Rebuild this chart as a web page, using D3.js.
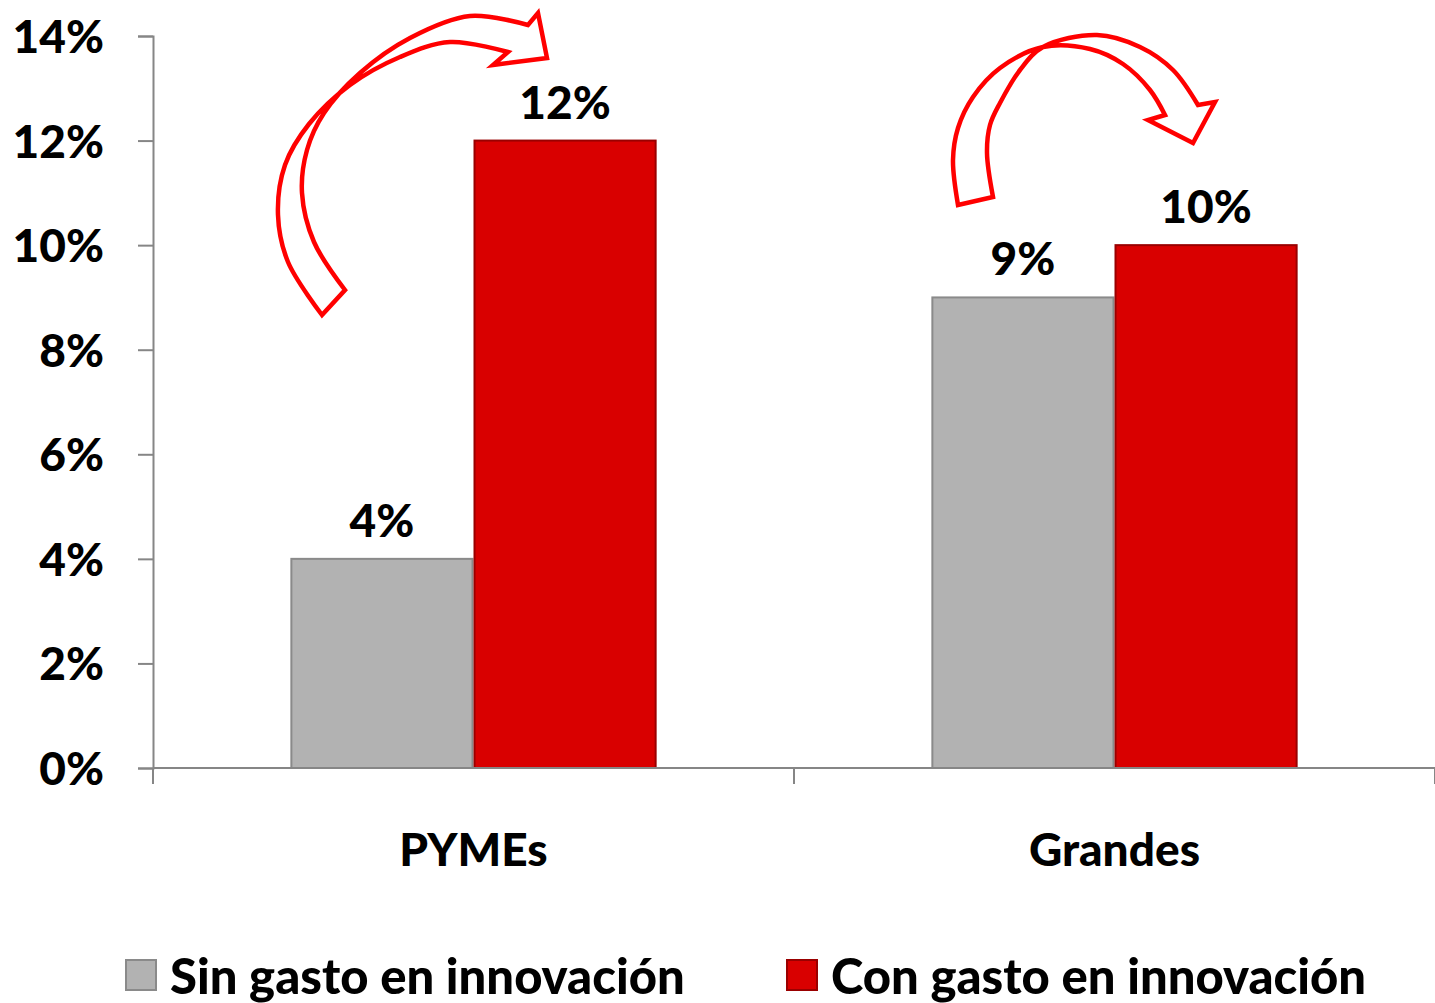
<!DOCTYPE html>
<html>
<head>
<meta charset="utf-8">
<script src="https://cdn.jsdelivr.net/npm/d3@7"></script>
<style>
  body { margin: 0; background: #fff; }
  text { font-family: Lato, "Open Sans", sans-serif; font-weight: 900; fill: #000; }
</style>
</head>
<body>
<div id="chart"></div>
<script>
// categories, series and values
const categories = ["PYMEs", "Grandes"];
const series = ["Sin gasto en innovación", "Con gasto en innovación"];
const sinGasto = [0.04, 0.09];
const conGasto = [0.12, 0.10];
const yTicks = [0, 0.02, 0.04, 0.06, 0.08, 0.10, 0.12, 0.14];
const colors = ["#b2b2b2", "#d90000"];
const edgeColors = ["#8a8a8a", "#9a0000"];

// curved arrow outlines (pixel coords, decoration only)
const arrowPYMEs = {
  a: [[322,315],[288,262],[278,215],[285,165],[309,124],[350,85],[400,57],[450,42],[508,52]],
  head: [[493,65],[547,58],[538,13],[528,25]],
  b: [[345,290],[314,242],[302,193],[307,150],[324,113],[360,73],[410,38],[470,16],[528,25]]
};
const arrowGrandes = {
  a: [[958,205],[953,160],[958,128],[973,97],[1000,68],[1043,47],[1090,49],[1123,64],[1150,90],[1165,115]],
  head: [[1148,120],[1193,143],[1215,102],[1198,105]],
  b: [[993,197],[987,153],[990,125],[1000,103],[1020,70],[1043,47],[1097,35],[1140,47],[1173,70],[1198,105]]
};

const W = 1435, H = 1003;
const svg = d3.select("#chart").append("svg")
  .attr("width", W).attr("height", H);

const y = d3.scaleLinear().domain([0, 0.14]).range([768, 36]);
const x0 = d3.scaleBand().domain(categories).range([153, 1435]);
const x1 = d3.scaleBand().domain(series).range([0, x0.bandwidth()]).paddingOuter(0.75);

const data = categories.map((c, i) => ({cat: c, values: [sinGasto[i], conGasto[i]]}));

// Y axis
const yAxis = svg.append("g")
  .attr("transform", "translate(153,0)")
  .call(d3.axisLeft(y).tickValues(yTicks).tickFormat(d3.format(".0%")).tickSize(15).tickSizeOuter(15).tickPadding(34));
yAxis.selectAll("path, line").attr("stroke", "#868686").attr("stroke-width", 2);
yAxis.selectAll("text").style("font-size", "46px").attr("dy", "0.36em").attr("fill", "#000");

// bars
const groups = svg.selectAll(".grp").data(data).join("g")
  .attr("class", "grp")
  .attr("transform", d => `translate(${x0(d.cat)},0)`);

groups.selectAll("rect").data(d => d.values.map((v, i) => ({s: series[i], v, i})))
  .join("rect")
  .attr("x", d => x1(d.s) + 1)
  .attr("y", d => y(d.v))
  .attr("width", x1.bandwidth() - 2)
  .attr("height", d => y(0) - y(d.v))
  .attr("fill", d => colors[d.i])
  .attr("stroke", d => edgeColors[d.i])
  .attr("stroke-width", 2);

groups.selectAll(".val").data(d => d.values.map((v, i) => ({s: series[i], v, i})))
  .join("text")
  .attr("class", "val")
  .attr("x", d => x1(d.s) + x1.bandwidth() / 2)
  .attr("y", d => y(d.v) - 22)
  .attr("text-anchor", "middle")
  .style("font-size", "46px")
  .text(d => d3.format(".0%")(d.v));

// X axis line and category ticks
svg.append("line")
  .attr("x1", 153).attr("x2", 1435).attr("y1", y(0)).attr("y2", y(0))
  .attr("stroke", "#868686").attr("stroke-width", 2);
const bounds = categories.map(c => x0(c)).concat([x0.range()[1]]);
svg.selectAll(".xtick").data(bounds).join("line")
  .attr("class", "xtick")
  .attr("x1", d => d).attr("x2", d => d)
  .attr("y1", y(0)).attr("y2", y(0) + 16)
  .attr("stroke", "#868686").attr("stroke-width", 2);

svg.selectAll(".cat").data(categories).join("text")
  .attr("class", "cat")
  .attr("x", d => x0(d) + x0.bandwidth() / 2)
  .attr("y", 866)
  .attr("text-anchor", "middle")
  .style("font-size", "46px")
  .text(d => d);

// arrows
const curve = d3.line().curve(d3.curveCatmullRom.alpha(0.5));
function arrowPath(ar) {
  const a = curve(ar.a);
  const h = ar.head.map(p => "L" + p[0] + "," + p[1]).join("");
  const b = curve(ar.b.slice().reverse()).replace(/^M[^C]*/, "");
  return a + h + b + "Z";
}
svg.selectAll(".arrow").data([arrowPYMEs, arrowGrandes]).join("path")
  .attr("class", "arrow")
  .attr("d", arrowPath)
  .attr("fill", "none")
  .attr("stroke", "#ff0000")
  .attr("stroke-width", 4.5)
  .attr("stroke-linejoin", "miter");

// legend
const legendX = [126, 787];
const legend = svg.selectAll(".leg").data(series).join("g")
  .attr("class", "leg")
  .attr("transform", (d, i) => `translate(${legendX[i]},960)`);
legend.append("rect")
  .attr("width", 30).attr("height", 30)
  .attr("fill", (d, i) => colors[i])
  .attr("stroke", (d, i) => edgeColors[i]).attr("stroke-width", 2);
legend.append("text")
  .attr("x", 44).attr("y", 34)
  .style("font-size", "49px")
  .text(d => d);
</script>
</body>
</html>
